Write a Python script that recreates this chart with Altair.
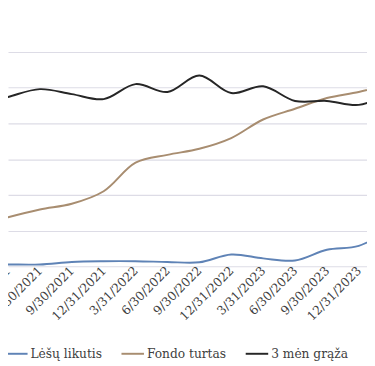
import altair as alt
import pandas as pd
import json

quarters = ["12/31/2020", "3/31/2021", "6/30/2021", "9/30/2021", "12/31/2021",
            "3/31/2022", "6/30/2022", "9/30/2022", "12/31/2022",
            "3/31/2023", "6/30/2023", "9/30/2023", "12/31/2023", "3/31/2024"]

lesu_likutis = [0.05, 0.05, 0.05, 0.12, 0.14, 0.14, 0.12, 0.11, 0.33, 0.22, 0.16, 0.46, 0.57, 1.05]
fondo_turtas = [1.10, 1.37, 1.59, 1.75, 2.10, 2.90, 3.12, 3.29, 3.59, 4.11, 4.41, 4.71, 4.88, 5.10]
men_graza = [4.50, 4.74, 4.96, 4.82, 4.68, 5.10, 4.88, 5.34, 4.85, 5.04, 4.63, 4.63, 4.52, 4.85]

series_names = ["Lėšų likutis", "Fondo turtas", "3 mėn grąža"]
series_colors = ["#5F83B6", "#A88D70", "#262626"]

rows = []
for name, vals in zip(series_names, [lesu_likutis, fondo_turtas, men_graza]):
    for i, v in enumerate(vals):
        rows.append({"idx": i, "value": v, "series": name})
df = pd.DataFrame(rows)

W = 367
H = 219
step = 32.6
x_lo = 1.0
x_hi = 1.0 + W / step

label_expr = json.dumps(quarters) + "[datum.value]"
font = "DejaVu Serif"

chart = alt.Chart(df).mark_line(
    clip=True, strokeWidth=2, interpolate="catmull-rom"
).encode(
    x=alt.X("idx:Q",
            scale=alt.Scale(domain=[x_lo, x_hi], nice=False, zero=False),
            axis=alt.Axis(values=list(range(1, len(quarters))), labelExpr=label_expr,
                          labelAngle=-45, labelAlign="right", labelBaseline="middle",
                          labelPadding=2, ticks=False, domain=False, grid=False,
                          labelFont=font, labelFontSize=12.5, labelColor="#404040",
                          title=None, labelOverlap=False, labelBound=False, labelFlush=False)),
    y=alt.Y("value:Q",
            scale=alt.Scale(domain=[0, 6], nice=False),
            axis=alt.Axis(values=[0, 1, 2, 3, 4, 5, 6], labels=False, ticks=False,
                          domain=False, grid=True, gridColor="#DDDCE6", gridWidth=1.2,
                          title=None)),
    color=alt.Color("series:N",
                    scale=alt.Scale(domain=series_names, range=series_colors),
                    legend=alt.Legend(orient="none", legendX=-4, legendY=296,
                                      direction="horizontal", title=None,
                                      symbolType="stroke", symbolSize=529,
                                      symbolStrokeWidth=2, labelFont=font,
                                      labelFontSize=12.5, labelColor="#404040",
                                      columnPadding=15, labelOffset=2, padding=0)),
    order="idx:Q",
).properties(
    width=W, height=H,
    autosize=alt.AutoSizeParams(type="none"),
    padding={"left": 0, "top": 41, "right": 0, "bottom": 98},
).configure_view(stroke=None)

chart.save("out.html", embed_options={"renderer": "svg", "actions": False})
